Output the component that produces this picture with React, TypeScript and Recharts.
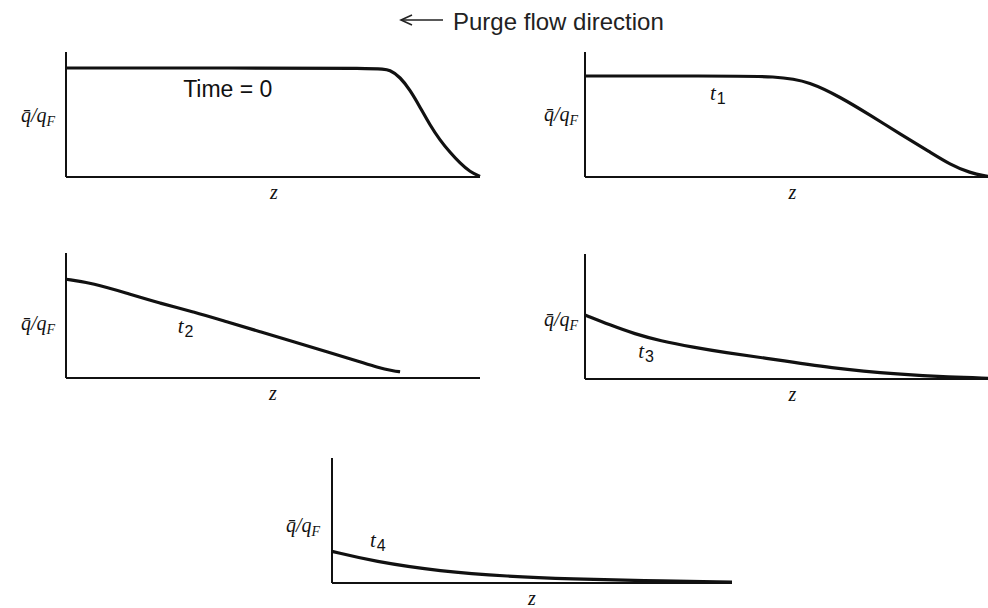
import { LineChart, Line, XAxis, YAxis, Label, ReferenceDot } from 'recharts';

// z = position along the bed (% of axis length), q = q̄/qF (% of y-axis height)
const zTime0 = [0, 40, 75.8, 78.3, 80.7, 83.1, 85.5, 87.9, 90.3, 92.8, 95.2, 97.6, 100];
const qTime0 = [87.2, 87.2, 87.2, 85.6, 80, 69.6, 56, 41.6, 29.6, 19.5, 11, 4, 0.5];

const zT1 = [0, 30, 48.4, 55.8, 63.3, 70.7, 78.2, 85.6, 90.6, 95.5, 100];
const qT1 = [80.8, 80.8, 80.8, 76, 64, 49.6, 34.4, 20, 10, 3.2, 0.5];

const zT2 = [0, 6.6, 14.7, 22.7, 30.8, 38.8, 46.9, 55, 63, 71, 75.1, 79.1, 80.7];
const qT2 = [79, 75.8, 67.8, 59.8, 53, 45, 37, 29, 21, 13, 8.6, 5.6, 5];

const zT3 = [0, 6.2, 12.4, 18.6, 26.9, 35.1, 43.4, 61.5, 78.2, 90.6, 100];
const qT3 = [51.2, 43.2, 36, 30.6, 25.4, 21, 17.4, 8.5, 3.6, 1.4, 0.6];

const zT4 = [0, 10.4, 27.1, 43.8, 60.4, 77.1, 100];
const qT4 = [25.3, 17.3, 9.3, 5.3, 3.2, 1.8, 0.8];

const curveLabels = ['Time = 0', '1', '2', '3', '4'];
// where each curve's label sits, in data units [z, q]
const labelSpots = [[28.3, 64], [31, 61.6], [27, 36], [13.2, 16.8], [9.5, 28.8]];

const TITLE = 'Purge flow direction';

const series = [
  [zTime0, qTime0],
  [zT1, qT1],
  [zT2, qT2],
  [zT3, qT3],
  [zT4, qT4],
];

// chart boxes (page px)
const boxes = [
  { left: 6, top: 52, plotW: 414, plotH: 125, right: 8, xh: 30, zdx: 1, ydy: 70, gap: 11 },
  { left: 525, top: 52, plotW: 403, plotH: 125, right: 0, xh: 30, zdx: 6, ydy: 69, gap: 7 },
  { left: 6, top: 253, plotW: 414, plotH: 125, right: 8, xh: 30, zdx: 0, ydy: 77, gap: 11 },
  { left: 525, top: 254, plotW: 403, plotH: 125, right: 0, xh: 30, zdx: 6, ydy: 72, gap: 7 },
  { left: 272, top: 458, plotW: 400, plotH: 125, right: 8, xh: 25, zdx: 0, ydy: 74, gap: 12 },
];

const INK = '#111';
const SERIF = "'Liberation Serif', 'Times New Roman', serif";
const SANS = "'Liberation Sans', Arial, sans-serif";

const YLab = ({ viewBox, dy, gap }: any) => {
  const { x, y, width } = viewBox;
  return (
    <text x={x + width - gap} y={y + dy} textAnchor="end" fontFamily={SERIF} fontStyle="italic" fontSize={20} fill={INK}>
      q&#772;/q<tspan fontSize={14} dy={4}>F</tspan>
    </text>
  );
};

const ZLab = ({ viewBox, dx }: any) => {
  const { x, y, width } = viewBox;
  return (
    <text x={x + width / 2 + dx} y={y + 22} textAnchor="middle" fontFamily={SERIF} fontStyle="italic" fontSize={20} fill={INK}>
      z
    </text>
  );
};

const CurveLab = ({ viewBox, text, first }: any) => {
  const { x, y } = viewBox;
  if (first) {
    return (
      <text x={x} y={y} fontFamily={SANS} fontSize={23} fill={INK}>
        {text}
      </text>
    );
  }
  return (
    <text x={x} y={y} fontFamily={SERIF} fontStyle="italic" fontSize={21} fill={INK}>
      t<tspan fontFamily={SANS} fontStyle="normal" fontSize={16} dy={4} dx={1}>{text}</tspan>
    </text>
  );
};

function Panel({ idx }: { idx: number }) {
  const b = boxes[idx];
  const [zs, qs] = series[idx];
  const data = zs.map((z, i) => ({ z, q: qs[i] }));
  const [lz, lq] = labelSpots[idx];
  return (
    <div style={{ position: 'absolute', left: b.left, top: b.top }}>
      <LineChart
        width={60 + b.plotW + b.right}
        height={b.plotH + b.xh}
        data={data}
        margin={{ top: 0, right: b.right, bottom: 0, left: 0 }}
      >
        <XAxis
          dataKey="z"
          type="number"
          domain={[0, 100]}
          tick={false}
          tickLine={false}
          height={b.xh}
          axisLine={{ stroke: INK, strokeWidth: 2 }}
        >
          <Label content={(p: any) => <ZLab {...p} dx={b.zdx} />} />
        </XAxis>
        <YAxis
          type="number"
          domain={[0, 100]}
          tick={false}
          tickLine={false}
          width={60}
          axisLine={{ stroke: INK, strokeWidth: 2 }}
        >
          <Label content={(p: any) => <YLab {...p} dy={b.ydy} gap={b.gap} />} />
        </YAxis>
        <Line
          type="basis"
          dataKey="q"
          stroke={INK}
          strokeWidth={3.2}
          dot={false}
          isAnimationActive={false}
        />
        <ReferenceDot
          x={lz}
          y={lq}
          r={0}
          fill="none"
          stroke="none"
          label={(p: any) => <CurveLab {...p} text={curveLabels[idx]} first={idx === 0} />}
        />
      </LineChart>
    </div>
  );
}

export default function App() {
  return (
    <div
      style={{
        position: 'absolute',
        left: 0,
        top: 0,
        width: 988,
        height: 608,
        background: '#fff',
        overflow: 'hidden',
      }}
    >
      <svg width={988} height={40} style={{ position: 'absolute', left: 0, top: 0 }}>
        <line x1={401} y1={20} x2={443} y2={20} stroke="#222" strokeWidth={1.6} />
        <polyline points="412,15 401,20 412,25" fill="none" stroke="#222" strokeWidth={1.6} />
        <text x={453} y={30} fontFamily={SANS} fontSize={24} fill="#222">
          {TITLE}
        </text>
      </svg>
      {series.map((_, i) => (
        <Panel key={i} idx={i} />
      ))}
    </div>
  );
}
